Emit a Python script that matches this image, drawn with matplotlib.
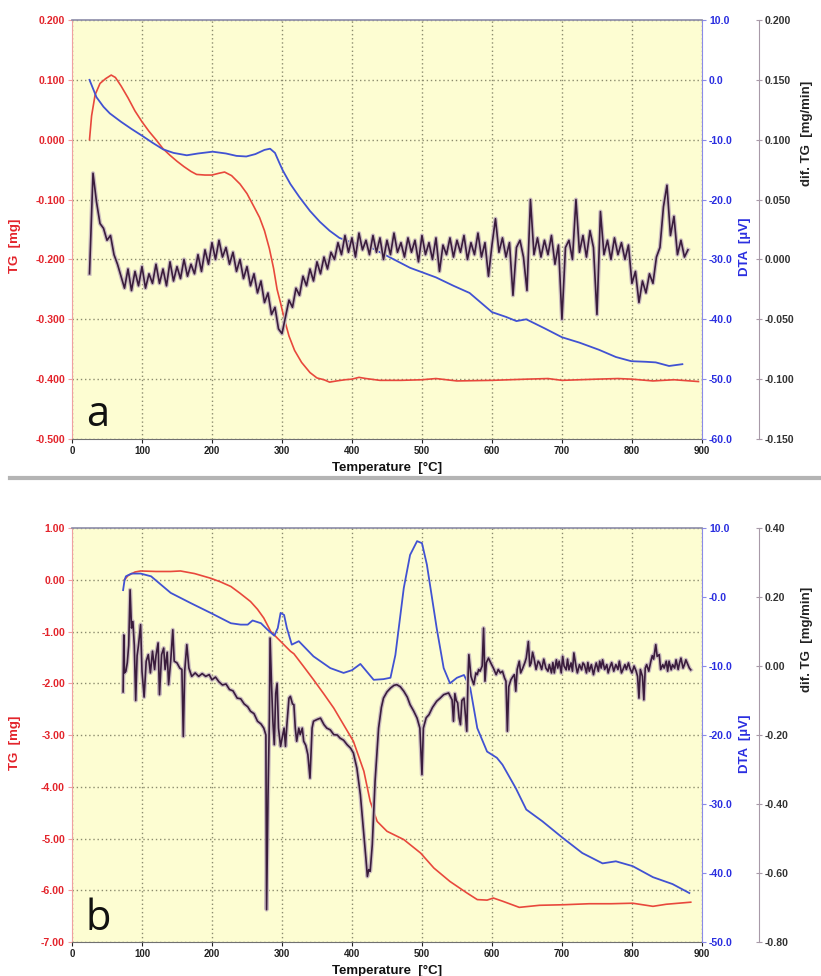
import matplotlib
matplotlib.use("Agg")
import matplotlib.pyplot as plt
from matplotlib.lines import Line2D
import numpy as np

plt.rcParams['font.family'] = ['Liberation Sans', 'DejaVu Sans']
plt.rcParams['font.weight'] = 'bold'
plt.rcParams['axes.labelweight'] = 'bold'
plt.rcParams['axes.unicode_minus'] = False

# ---------------- panel a ----------------
tg_a_t = [25, 28, 33, 40, 48, 56, 62, 70, 80, 90, 100, 110, 120, 130, 140, 150,
          160, 170, 178, 190, 200, 210, 218, 228, 240, 250, 260, 268, 275, 282,
          288, 293, 298, 303, 310, 318, 328, 340, 350, 360, 368, 378, 390, 400,
          410, 420, 440, 470, 500, 520, 550, 600, 650, 680, 700, 750, 780, 800,
          830, 860, 895]
tg_a = [0.000, 0.040, 0.075, 0.094, 0.102, 0.108, 0.104, 0.090, 0.070, 0.048,
        0.030, 0.014, 0.000, -0.015, -0.026, -0.036, -0.045, -0.053, -0.058,
        -0.059, -0.059, -0.056, -0.054, -0.060, -0.074, -0.090, -0.112, -0.130,
        -0.152, -0.182, -0.215, -0.250, -0.273, -0.298, -0.328, -0.352, -0.372,
        -0.389, -0.398, -0.401, -0.405, -0.403, -0.401, -0.400, -0.397, -0.399,
        -0.402, -0.402, -0.401, -0.399, -0.403, -0.402, -0.400, -0.399, -0.402,
        -0.400, -0.399, -0.400, -0.403, -0.401, -0.404]

dta_a_t = [25, 35, 45, 54, 70, 85, 101, 115, 130, 145, 164, 180, 201, 220, 235,
           249, 262, 275, 283, 290, 296, 301, 312, 325, 340, 354, 368, 382, 400,
           427, 450, 483, 520, 545, 568, 585, 600, 620, 635, 649, 675, 700, 725,
           753, 777, 799, 820, 834, 853, 872]
dta_a = [0.0, -2.9, -4.5, -5.6, -7.0, -8.2, -9.4, -10.5, -11.6, -12.2, -12.6,
         -12.3, -12.0, -12.3, -12.7, -12.8, -12.4, -11.7, -11.5, -12.2, -13.8,
         -15.1, -17.4, -19.6, -21.9, -23.7, -25.2, -26.4, -27.2, -28.0, -29.4,
         -31.4, -33.0, -34.4, -35.6, -37.3, -38.8, -39.6, -40.3, -40.0, -41.5,
         -43.0, -43.9, -45.1, -46.3, -47.0, -47.1, -47.2, -47.8, -47.5]

dtg_a_t = np.arange(25, 881, 5)
dtg_a = [
    -0.012, 0.072, 0.048, 0.030, 0.026, 0.016, 0.020, 0.004, -0.004, -0.014,
    -0.024, -0.008, -0.026, -0.010, -0.022, -0.006, -0.024, -0.012, -0.020, -0.004,
    -0.020, -0.008, -0.022, -0.002, -0.018, -0.006, -0.016, 0.000, -0.014, -0.004,
    -0.012, 0.004, -0.010, 0.008, -0.004, 0.014, 0.000, 0.016, 0.002, 0.010,
    -0.004, 0.006, -0.010, 0.000, -0.016, -0.006, -0.022, -0.012, -0.028, -0.018,
    -0.036, -0.028, -0.046, -0.040, -0.058, -0.062, -0.048, -0.034, -0.040, -0.024,
    -0.030, -0.014, -0.022, -0.008, -0.018, -0.002, -0.012, 0.002, -0.008, 0.006,
    0.000, 0.014, 0.004, 0.020, 0.006, 0.018, 0.002, 0.022, 0.008, 0.016,
    0.004, 0.020, 0.006, 0.018, 0.000, 0.016, 0.004, 0.022, 0.006, 0.014,
    0.002, 0.018, 0.006, 0.016, -0.002, 0.020, 0.004, 0.014, 0.000, 0.018,
    -0.010, 0.012, 0.004, 0.018, 0.002, 0.016, 0.006, 0.020, 0.000, 0.014,
    0.004, 0.022, 0.002, 0.014, -0.014, 0.012, 0.034, 0.006, 0.018, 0.002,
    0.014, -0.030, 0.010, 0.016, 0.002, -0.026, 0.050, 0.004, 0.018, 0.002,
    0.016, 0.004, 0.020, -0.004, 0.012, -0.050, 0.010, 0.016, 0.000, 0.050,
    0.006, 0.020, 0.002, 0.024, 0.010, -0.046, 0.040, 0.004, 0.016, 0.000,
    0.018, 0.004, 0.014, 0.000, 0.012, -0.020, -0.010, -0.036, -0.018, -0.028,
    -0.012, -0.020, 0.002, 0.010, 0.044, 0.062, 0.020, 0.036, 0.004, 0.016,
    0.002, 0.008]

# ---------------- panel b ----------------
tg_b_t = [75, 80, 90, 98, 120, 141, 155, 175, 198, 212, 227, 240, 255, 265, 274,
          284, 298, 312, 317, 330, 345, 360, 374, 388, 402, 417, 426, 436, 450,
          474, 498, 517, 540, 564, 579, 593, 602, 615, 639, 668, 701, 739, 770,
          801, 830, 849, 884]
tg_b = [0.00, 0.08, 0.15, 0.17, 0.16, 0.16, 0.17, 0.12, 0.03, -0.04, -0.13,
        -0.26, -0.42, -0.57, -0.74, -1.00, -1.19, -1.38, -1.43, -1.66, -1.93,
        -2.21, -2.48, -2.80, -3.12, -3.70, -4.28, -4.67, -4.86, -5.02, -5.28,
        -5.57, -5.83, -6.05, -6.18, -6.19, -6.15, -6.21, -6.33, -6.29, -6.28,
        -6.26, -6.26, -6.25, -6.31, -6.27, -6.23]

dta_b_t = [73, 75, 77, 85, 98, 113, 127, 141, 170, 198, 227, 241, 251, 258, 270,
           279, 289, 294, 298, 303, 307, 314, 324, 345, 369, 388, 400, 412, 431,
           445, 455, 462, 474, 483, 493, 500, 507, 521, 531, 540, 550, 560, 569,
           579, 593, 607, 615, 634, 649, 672, 701, 729, 758, 777, 801, 830, 858,
           882]
dta_b = [1.0, 2.4, 3.0, 3.4, 3.4, 3.0, 1.8, 0.6, -0.9, -2.3, -3.8, -4.0, -4.0,
         -3.4, -3.8, -4.7, -5.6, -4.5, -2.3, -2.6, -4.5, -6.9, -6.4, -8.6,
         -10.3, -11.0, -10.6, -9.7, -12.0, -11.9, -11.7, -8.4, 1.3, 6.1, 8.1,
         7.8, 4.7, -4.5, -10.3, -12.5, -11.7, -11.3, -13.2, -19.0, -22.4, -23.3,
         -24.3, -27.7, -30.8, -32.5, -34.9, -37.1, -38.6, -38.3, -39.0, -40.6,
         -41.6, -42.9]

dtg_b_t = [73, 74, 75, 77, 79, 81, 83, 85, 87, 89, 91, 93, 95, 98, 100, 103, 106,
           109, 112, 115, 118, 120, 123, 125, 128, 131, 133, 136, 138, 141, 144,
           146, 150, 154, 157, 159, 161, 164, 167, 171, 176, 181, 186, 191, 196,
           200, 205, 210, 215, 220, 225, 230, 236, 241, 246, 251, 255, 260, 265,
           270, 274, 277, 278, 280, 282, 283, 285, 287, 289, 291, 293, 295, 298,
           301, 303, 305, 307, 310, 312, 315, 317, 319, 321, 324, 326, 329, 331,
           334, 337, 340, 343, 345, 350, 355, 360, 364, 369, 374, 379, 383, 388,
           393, 398, 402, 407, 412, 417, 420, 422, 424, 426, 429, 433, 436, 438,
           442, 445, 450, 455, 460, 464, 469, 474, 479, 483, 488, 493, 497, 500,
           502, 506, 510, 515, 521, 526, 531, 535, 538, 541, 543, 545, 547, 549,
           551, 553, 555, 557, 560, 562, 564, 566, 567, 570, 574, 577, 579, 581,
           583, 586, 588, 590, 592, 595, 598, 602, 606, 609, 612, 615, 618, 620,
           622, 624, 627, 630, 632, 634, 636, 639, 641, 644, 647, 649, 652, 654,
           656, 658, 660, 663, 666, 668, 671, 674, 677, 680, 682, 685, 687, 689,
           692, 694, 696, 699, 701, 703, 706, 708, 710, 713, 715, 717, 720, 722,
           725, 728, 730, 732, 735, 737, 739, 742, 745, 747, 749, 752, 754, 756,
           758, 761, 764, 766, 768, 771, 774, 777, 780, 782, 785, 787, 790, 792,
           795, 797, 800, 803, 806, 808, 810, 812, 815, 817, 819, 821, 824, 827,
           829, 831, 834, 836, 839, 841, 844, 846, 849, 851, 853, 856, 858, 861,
           863, 866, 868, 870, 873, 875, 877, 880, 882, 884]
dtg_b = [-0.075, 0.090, -0.020, -0.015, 0.010, 0.060, 0.221, 0.110, 0.129, 0.060,
         -0.100, 0.030, 0.060, 0.120, -0.015, -0.090, 0.014, 0.033, -0.020, 0.043,
         -0.010, 0.030, 0.067, -0.083, 0.033, 0.052, -0.010, 0.040, -0.054, 0.014,
         0.105, 0.014, 0.009, -0.006, -0.010, -0.204, -0.015, 0.062, -0.006, -0.030,
         -0.020, -0.030, -0.022, -0.030, -0.025, -0.040, -0.032, -0.046, -0.055,
         -0.052, -0.068, -0.072, -0.093, -0.095, -0.110, -0.118, -0.131, -0.138,
         -0.160, -0.168, -0.180, -0.200, -0.706, -0.380, -0.150, 0.081, -0.050,
         -0.160, -0.228, -0.080, -0.050, -0.180, -0.233, -0.200, -0.180, -0.233,
         -0.170, -0.093, -0.088, -0.110, -0.112, -0.180, -0.218, -0.180, -0.199,
         -0.180, -0.218, -0.230, -0.257, -0.325, -0.180, -0.160, -0.155, -0.151,
         -0.170, -0.180, -0.185, -0.199, -0.200, -0.209, -0.215, -0.228, -0.238,
         -0.252, -0.296, -0.373, -0.489, -0.560, -0.610, -0.590, -0.595, -0.518,
         -0.334, -0.240, -0.180, -0.120, -0.093, -0.075, -0.064, -0.056, -0.054,
         -0.060, -0.073, -0.090, -0.112, -0.130, -0.151, -0.180, -0.315, -0.180,
         -0.150, -0.141, -0.120, -0.102, -0.093, -0.083, -0.080, -0.078, -0.090,
         -0.098, -0.160, -0.080, -0.100, -0.107, -0.150, -0.170, -0.100, -0.093,
         -0.140, -0.189, -0.020, 0.033, -0.030, -0.054, -0.020, -0.025, -0.010,
         -0.015, 0.000, 0.110, -0.044, 0.010, 0.023, 0.010, -0.006, -0.025,
         -0.010, -0.020, -0.015, -0.035, -0.044, -0.189, -0.060, -0.040, -0.030,
         -0.025, -0.073, -0.010, 0.014, -0.020, -0.006, 0.010, 0.023, 0.071,
         0.000, 0.009, 0.040, 0.023, -0.010, 0.014, 0.009, -0.010, 0.020, -0.006,
         -0.015, 0.004, -0.020, 0.010, -0.020, 0.018, -0.006, 0.014, -0.020,
         0.028, 0.000, -0.011, 0.020, -0.011, 0.009, -0.015, 0.038, 0.000,
         -0.020, 0.004, -0.011, 0.009, 0.004, -0.020, 0.010, -0.015, 0.004,
         -0.025, -0.006, 0.009, -0.015, 0.014, -0.006, 0.018, -0.010, 0.004,
         -0.020, -0.006, 0.010, -0.015, 0.004, -0.010, 0.014, -0.020, -0.011,
         0.004, -0.010, 0.009, -0.006, -0.020, 0.000, -0.015, -0.030, -0.093,
         -0.010, -0.030, -0.098, -0.006, 0.004, -0.015, 0.014, 0.030, 0.020,
         0.062, 0.028, 0.033, -0.010, 0.004, -0.006, 0.014, -0.015, 0.014,
         -0.011, 0.004, -0.006, 0.018, -0.010, 0.009, 0.023, -0.006, 0.004,
         0.018, 0.004, -0.006, -0.011]

x_ticks = [0, 100, 200, 300, 400, 500, 600, 700, 800, 900]

tg_a_ticks = [-0.5, -0.4, -0.3, -0.2, -0.1, 0.0, 0.1, 0.2]
tg_a_labels = ["-0.500", "-0.400", "-0.300", "-0.200", "-0.100", "0.000", "0.100", "0.200"]
dta_a_ticks = [-60, -50, -40, -30, -20, -10, 0, 10]
dta_a_labels = ["-60.0", "-50.0", "-40.0", "-30.0", "-20.0", "-10.0", "0.0", "10.0"]
dtg_a_ticks = [-0.15, -0.10, -0.05, 0.0, 0.05, 0.10, 0.15, 0.20]
dtg_a_labels = ["-0.150", "-0.100", "-0.050", "0.000", "0.050", "0.100", "0.150", "0.200"]

tg_b_ticks = [-7, -6, -5, -4, -3, -2, -1, 0, 1]
tg_b_labels = ["-7.00", "-6.00", "-5.00", "-4.00", "-3.00", "-2.00", "-1.00", "0.00", "1.00"]
dta_b_ticks = [-50, -40, -30, -20, -10, 0, 10]
dta_b_labels = ["-50.0", "-40.0", "-30.0", "-20.0", "-10.0", "-0.0", "10.0"]
dtg_b_ticks = [-0.8, -0.6, -0.4, -0.2, 0.0, 0.2, 0.4]
dtg_b_labels = ["-0.80", "-0.60", "-0.40", "-0.20", "0.00", "0.20", "0.40"]

RED = '#e8483c'
RED_TXT = '#e3242b'
BLUE = '#4152d2'
BLUE_TXT = '#2a2ee0'
DARK = '#3a1c3c'
HALO = '#cbbdc0'
BG = '#fdfdd2'


def panel(fig, rect, tg_t, tg, dta_t, dta, dtg_t, dtg,
          tg_ticks, tg_labels, dta_ticks, dta_labels, dtg_ticks, dtg_labels,
          letter, label_y):
    ax = fig.add_axes(rect)
    ax.set_facecolor(BG)
    ax2 = ax.twinx()
    ax3 = ax.twinx()

    ax.plot(tg_t, tg, color=RED, lw=1.2, zorder=3)
    ax2.plot(dta_t, dta, color=BLUE, lw=1.3)
    ax3.plot(dtg_t, dtg, color=HALO, lw=3.0)
    ax3.plot(dtg_t, dtg, color=DARK, lw=1.2)

    ax.set_xlim(0, 900)
    ax.set_ylim(tg_ticks[0], tg_ticks[-1])
    ax2.set_ylim(dta_ticks[0], dta_ticks[-1])
    ax3.set_ylim(dtg_ticks[0], dtg_ticks[-1])

    ax.set_xticks(x_ticks)
    ax.set_yticks(tg_ticks)
    ax.set_yticklabels(tg_labels)
    ax2.set_yticks(dta_ticks)
    ax2.set_yticklabels(dta_labels)
    ax3.set_yticks(dtg_ticks)
    ax3.set_yticklabels(dtg_labels)

    ax.grid(True, color='#8c8c6e', lw=1.0, linestyle=(0, (1, 2)))
    ax.set_axisbelow(True)

    for s in ['top', 'right']:
        ax.spines[s].set_visible(False)
    ax.spines['left'].set_color('#f0a0a0')
    ax.spines['bottom'].set_color('#707070')
    ax2.spines['top'].set_color('#8c8ca8')
    ax2.spines['top'].set_linewidth(1.2)
    for s in ['left', 'bottom']:
        ax2.spines[s].set_visible(False)
        ax3.spines[s].set_visible(False)
    ax2.spines['right'].set_color('#8a8ae8')
    ax3.spines['top'].set_visible(False)
    ax3.spines['right'].set_position(('axes', 1.09))
    ax3.spines['right'].set_color('#a89aa8')

    ax.tick_params(axis='y', colors=RED_TXT, labelsize=7.6, length=3, pad=2)
    ax.tick_params(axis='x', colors='#222222', labelsize=7, length=3, pad=2)
    ax2.tick_params(axis='y', colors=BLUE_TXT, labelsize=7.6, length=3, pad=2)
    ax3.tick_params(axis='y', colors='#333333', labelsize=7.6, length=5,
                    direction='inout', pad=2)
    ax3.tick_params(axis='y', color='#a89aa8')
    ax.tick_params(axis='y', color='#f0a0a0')
    ax2.tick_params(axis='y', color='#8a8ae8')

    ax.set_xlabel('Temperature  [°C]', fontsize=9.5, color='#111111', labelpad=4)
    ax.set_ylabel('TG  [mg]', fontsize=9.5, color=RED_TXT)
    ax.yaxis.set_label_coords(-0.081, label_y)
    ax2.set_ylabel('DTA  [µV]', fontsize=9.5, color=BLUE_TXT)
    ax2.yaxis.set_label_coords(1.059, label_y)
    ax3.set_ylabel('dif. TG  [mg/min]', fontsize=9.5, color='#222222')
    ax3.yaxis.set_label_coords(1.157, 0.73)

    ax.text(0.022, 0.03, letter, transform=ax.transAxes, fontsize=30,
            fontweight='normal', family=['Open Sans', 'DejaVu Sans'],
            color='#111111', va='baseline', ha='left')
    return ax


def main():
    fig = plt.figure(figsize=(8.21, 9.76), dpi=100)

    panel(fig, [0.0877, 0.5502, 0.7673, 0.4293], tg_a_t, tg_a, dta_a_t, dta_a,
          dtg_a_t, dtg_a, tg_a_ticks, tg_a_labels, dta_a_ticks, dta_a_labels,
          dtg_a_ticks, dtg_a_labels, 'a', 0.46)
    panel(fig, [0.0877, 0.0348, 0.7673, 0.4242], tg_b_t, tg_b, dta_b_t, dta_b,
          dtg_b_t, dtg_b, tg_b_ticks, tg_b_labels, dta_b_ticks, dta_b_labels,
          dtg_b_ticks, dtg_b_labels, 'b', 0.48)

    sep_y = 1 - 478 / 976
    fig.add_artist(Line2D([0.012, 1.0], [sep_y, sep_y], color='#b4b4b4', lw=3,
                          transform=fig.transFigure))

    fig.savefig('out.png', dpi=100)


if __name__ == "__main__":
    main()
